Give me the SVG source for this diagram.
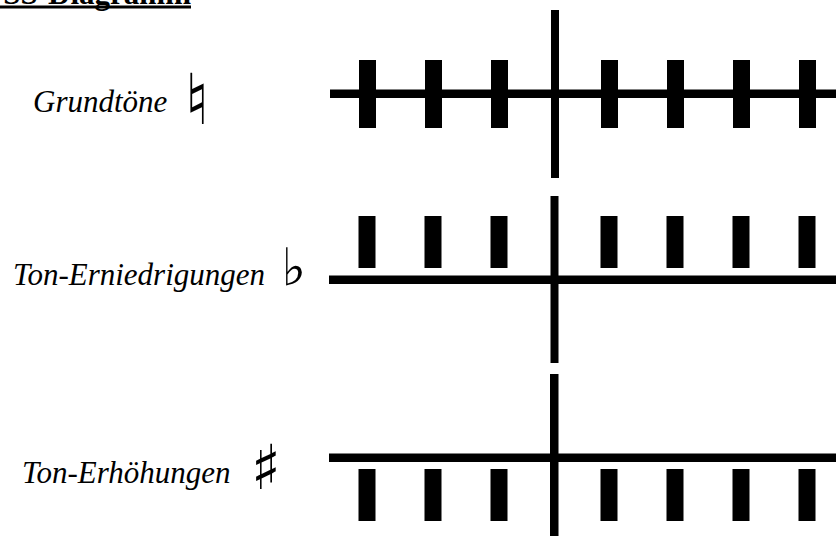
<svg xmlns="http://www.w3.org/2000/svg" width="836" height="536" viewBox="0 0 836 536">
<style>
.lbl{font-family:"Liberation Serif","Times New Roman",serif;font-style:italic;font-size:31px;fill:#000}
.acc{font-family:"DejaVu Sans",sans-serif;fill:#000}
.title{font-family:"Liberation Serif","Times New Roman",serif;font-weight:bold;font-size:31px;fill:#000}
.k{fill:#000}
</style>
<defs>
<g id="bars1">
<rect x="359" width="17" height="68"/><rect x="425" width="17" height="68"/><rect x="491" width="17" height="68"/>
<rect x="601" width="17" height="68"/><rect x="667" width="17" height="68"/><rect x="733" width="17" height="68"/><rect x="799" width="17" height="68"/>
</g>
<g id="bars2">
<rect x="358.5" width="17" height="52"/><rect x="424.5" width="17" height="52"/><rect x="490.5" width="17" height="52"/>
<rect x="600.5" width="17" height="52"/><rect x="666.5" width="17" height="52"/><rect x="732.5" width="17" height="52"/><rect x="798.5" width="17" height="52"/>
</g>
</defs>
<g id="title">
<text class="title" x="191" y="4" text-anchor="end">SS-Diagramm</text>
<rect class="k" x="0" y="5.5" width="191" height="3"/>
</g>
<g id="grundtoene">
<text class="lbl" x="33" y="112">Grundtöne</text>
<text class="acc" x="184.5" y="124" font-size="70">♮</text>
<g class="k">
<rect x="330" y="89.5" width="506" height="8.5"/>
<rect x="551" y="10" width="8" height="168"/>
<use href="#bars1" y="60"/>
</g>
</g>
<g id="erniedrigungen">
<text class="lbl" x="13" y="285">Ton-Erniedrigungen</text>
<text class="acc" x="281.5" y="285" font-size="52">♭</text>
<g class="k">
<rect x="329" y="275.5" width="507" height="8.5"/>
<rect x="550.5" y="196" width="8" height="167"/>
<use href="#bars2" y="216"/>
</g>
</g>
<g id="erhoehungen">
<text class="lbl" x="22" y="483">Ton-Erhöhungen</text>
<text class="acc" x="251" y="489" font-size="62">♯</text>
<g class="k">
<rect x="329" y="453.5" width="507" height="8.5"/>
<rect x="550" y="374" width="8.5" height="162"/>
<use href="#bars2" y="469"/>
</g>
</g>
</svg>
